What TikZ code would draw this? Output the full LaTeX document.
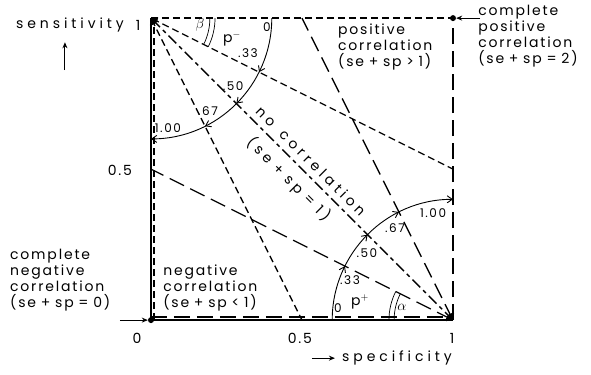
\documentclass[tikz,border=0pt]{standalone}
\usepackage{fontspec}
\setmainfont{Poppins}[LetterSpace=13, WordSpace=0.85]
\usetikzlibrary{arrows.meta,positioning,decorations.markings}
\newcommand{\lblfont}{\fontsize{14}{16}\selectfont}
\newcommand{\widefont}{\fontsize{14}{16}\selectfont\addfontfeature{LetterSpace=28}}
\newcommand{\arcfont}{\fontsize{12}{14}\selectfont}

\begin{document}
\begin{tikzpicture}[x=302pt, y=302pt, >={Straight Barb[length=5pt,width=7pt]},
  every node/.style={font=\lblfont, inner sep=1pt},
  block/.style={align=left, inner sep=0pt},
  axislbl/.style={font=\widefont},
  arclbl/.style={font=\arcfont, inner sep=0pt},
  dot/.style={circle, fill, inner sep=0pt, minimum size=6pt},
  border/.style={line width=1.6pt},
  shortdash/.style={line width=1.3pt, dash pattern=on 7pt off 4pt},
  longdash/.style={line width=1.3pt, dash pattern=on 16pt off 7pt},
  mixdash/.style={line width=1.3pt, dash pattern=on 11pt off 4pt on 4pt off 4pt},
  pointer/.style={-{Stealth[length=6pt,width=5pt]}, line width=1pt},
  sweep/.style={line width=0.9pt, ->, postaction={decorate}, decoration={markings,
    mark=at position 0.295 with {\arrow{>}},
    mark=at position 0.5 with {\arrow{>}},
    mark=at position 0.705 with {\arrow{>}}}},
  anglemark/.style={line width=0.7pt}]
\useasboundingbox (-0.5,-0.179) rectangle (1.457,1.06);

% corners of the unit square
\coordinate (O) at (0,0);
\coordinate (TL) at (0,1);
\coordinate (TR) at (1,1);
\coordinate (BR) at (1,0);
\coordinate (L5) at (0,0.5);
\coordinate (R5) at (1,0.5);
\coordinate (T5) at (0.5,1);
\coordinate (B5) at (0.5,0);

% frame
\draw[border] (O) -- (TL);
\draw[border] (O) -- (BR);
\draw[shortdash] ([xshift=3pt]O) -- ([xshift=3pt]TL);
\draw[longdash] ([yshift=3pt]O) -- ([yshift=3pt]BR);
\draw[shortdash] (TL) -- (TR);
\draw[longdash] (BR) -- (TR);

% fans
\draw[shortdash,<-] (TL) -- (R5);
\draw[shortdash,<-] (TL) -- (B5);
\draw[mixdash,<->] (TL) -- (BR);
\draw[longdash,<-] (BR) -- (L5);
\draw[longdash,<-] (BR) -- (T5);

% sweeps
\draw[sweep] (TL) ++(0.4,0) arc[start angle=0, end angle=-90, radius=0.4];
\draw[sweep] (BR) ++(-0.4,0) arc[start angle=180, end angle=90, radius=0.4];

% angles
\draw[anglemark] (TL) ++(0.195,0) arc[start angle=0, end angle=-26.57, radius=0.195];
\draw[anglemark] (TL) ++(0.212,0) arc[start angle=0, end angle=-26.57, radius=0.212];
\draw[anglemark] (BR) ++(-0.195,0) arc[start angle=180, end angle=153.43, radius=0.195];
\draw[anglemark] (BR) ++(-0.212,0) arc[start angle=180, end angle=153.43, radius=0.212];

% sweep labels
\node[arclbl] (mzero) at (0.384,0.97) {0};
\node[arclbl, font=\lblfont] (mname) at (0.268,0.93) {p$^{-}$};
\node[arclbl] (mthird) at (0.321,0.884) {.33};
\node[arclbl] (mhalf) at (0.272,0.775) {.50};
\node[arclbl] (mtwo) at (0.189,0.692) {.67};
\node[arclbl] (mone) at (0.056,0.636) {1.00};
\node[arclbl, font=\lblfont] (beta) at (0.162,0.977) {$\beta$};
\node[arclbl] (pzero) at (0.619,0.04) {0};
\node[arclbl, font=\lblfont] (pname) at (0.692,0.06) {p$^{+}$};
\node[arclbl, font=\lblfont] (alpha) at (0.831,0.043) {$\alpha$};
\node[arclbl] (pthird) at (0.659,0.132) {.33};
\node[arclbl] (phalf) at (0.715,0.222) {.50};
\node[arclbl] (ptwo) at (0.808,0.305) {.67};
\node[arclbl] (pone) at (0.934,0.354) {1.00};

% axes
\node[axislbl, anchor=east] (sens) at (-0.086,0.977) {sensitivity};
\node (sone) at (-0.043,0.977) {1};
\node (shalf) at (-0.103,0.497) {0.5};
\coordinate (sbot) at (-0.285,0.828);
\coordinate (stop) at (-0.285,0.92);
\draw[pointer] (sbot) -- (stop);
\node (xzero) at (-0.046,-0.06) {0};
\node (xhalf) at (0.493,-0.06) {0.5};
\node (xone) at (0.997,-0.06) {1};
\node[axislbl, anchor=east] (spec) at (1.0,-0.126) {specificity};
\coordinate (xtail) at (0.533,-0.126);
\coordinate (xhead) at (0.609,-0.126);
\draw[pointer] (xtail) -- (xhead);

% regions
\node[dot] (negdot) at (O) {};
\node[dot] (posdot) at (TR) {};
\node[block, anchor=west] (cneg) at (-0.467,0.132) {complete\\negative\\correlation\\(se + sp = 0)};
\coordinate (negtail) at (-0.103,0);
\draw[pointer] (negtail) -- (negdot);
\node[block, anchor=north west] (cpos) at (1.083,1.043) {complete\\positive\\correlation\\(se + sp = 2)};
\coordinate (postail) at (1.09,1);
\draw[pointer] (postail) -- (posdot);
\node[block, anchor=west] (negcor) at (0.04,0.106) {negative\\correlation\\(se + sp < 1)};
\node[block, anchor=west] (poscor) at (0.619,0.904) {positive\\correlation\\(se + sp > 1)};
\node[rotate=-45, font=\widefont] (nocor) at (0.53,0.527) {no\hspace{0.35em} correlation};
\node[rotate=-45, font=\widefont] (nosum) at (0.456,0.466) {(se + sp = 1)};
\end{tikzpicture}
\end{document}
